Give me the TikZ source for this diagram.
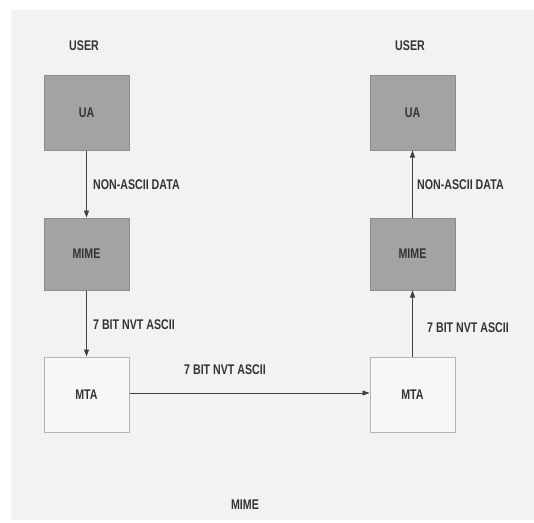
\documentclass[tikz,border=0pt]{standalone}
\usepackage{fontspec}
\setmainfont[FakeStretch=0.76]{Liberation Sans}
\usetikzlibrary{arrows.meta}
\definecolor{bgc}{HTML}{F2F2F2}
\definecolor{boxg}{HTML}{A3A3A3}
\definecolor{boxb}{HTML}{8C8C8C}
\definecolor{mtab}{HTML}{B4B4B4}
\definecolor{txt}{HTML}{333333}
\begin{document}
\begin{tikzpicture}[x=1pt,y=-1pt,
  tfont/.style={font=\fontsize{14}{16}\selectfont\bfseries},
  darkbox/.style={draw=boxb,fill=boxg,line width=1pt,minimum width=85pt,minimum height=75pt,inner sep=0pt,text=txt,tfont},
  mimebox/.style={darkbox,minimum height=72pt},
  lightbox/.style={draw=mtab,fill=white!97!black,line width=1pt,minimum width=85pt,minimum height=75pt,inner sep=0pt,text=txt,tfont},
  lbl/.style={text=txt,tfont,inner sep=0pt},
  conn/.style={draw=black!75,line width=0.8pt,-{Triangle[length=7pt,width=5pt]}}]
\useasboundingbox (0,0) rectangle (534,522);
\fill[white] (0,0) rectangle (534,522);
\fill[bgc] (11,10) rectangle (534,520);
% left column
\node[lbl] (userL) at (84,46) {USER};
\node[darkbox] (uaL) at (86.5,112.5) {UA};
\node[mimebox] (mimeL) at (86.5,254) {MIME};
\node[lightbox] (mtaL) at (86.5,394.5) {MTA};
% right column
\node[lbl] (userR) at (410,46) {USER};
\node[darkbox] (uaR) at (412.5,112.5) {UA};
\node[mimebox] (mimeR) at (412.5,254) {MIME};
\node[lightbox] (mtaR) at (412.5,394.5) {MTA};
% connectors
\draw[conn] (uaL) -- (mimeL);
\draw[conn] (mimeL) -- (mtaL);
\draw[conn] (mtaL.east |- 0,393) -- (mtaR.west |- 0,393);
\draw[conn] (mtaR) -- (mimeR);
\draw[conn] (mimeR) -- (uaR);
% labels
\node[lbl,anchor=west] (l1) at (93,185) {NON-ASCII DATA};
\node[lbl,anchor=west] (l2) at (93,325) {7 BIT NVT ASCII};
\node[lbl] (l3) at (225,370) {7 BIT NVT ASCII};
\node[lbl,anchor=west] (l4) at (417,185) {NON-ASCII DATA};
\node[lbl,anchor=west] (l5) at (427,328) {7 BIT NVT ASCII};
\node[lbl] (cap) at (245,505) {MIME};
\end{tikzpicture}
\end{document}
